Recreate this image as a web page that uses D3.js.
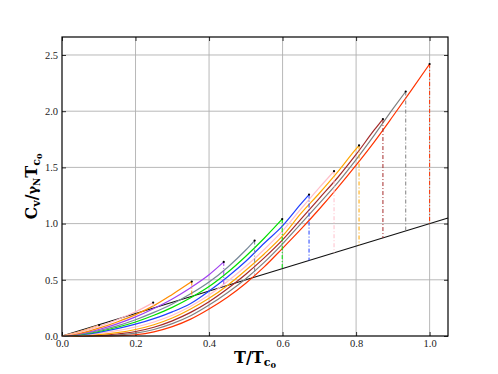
<!DOCTYPE html>
<html>
<head>
<meta charset="utf-8">
<script src="https://cdn.jsdelivr.net/npm/d3@7"></script>
<style>
  body { margin: 0; background: #fff; }
  .tick line { stroke: #000; stroke-width: 0.8; }
</style>
</head>
<body>
<div id="chart"></div>
<script>
// temperature grid (T/Tc0) where the curves were read
var tGrid = [0, 0.05, 0.1, 0.15, 0.2, 0.25, 0.3, 0.35, 0.4, 0.45, 0.5,
             0.55, 0.6, 0.65, 0.7, 0.75, 0.8, 0.85, 0.9, 0.95, 1.0];

// critical temperatures, highest first
var tcValues = [1.0, 0.935, 0.873, 0.808, 0.74, 0.672, 0.599, 0.524, 0.44, 0.353, 0.248, 0.101];

// Cv / gamma_N Tc0 on tGrid below Tc, last value is the one at Tc
var cv100 = [0, 0, 0, 0.002, 0.011, 0.037, 0.083, 0.15, 0.24, 0.345, 0.47, 0.615, 0.78, 0.95, 1.13, 1.32, 1.52, 1.73, 1.955, 2.185, 2.42];
var cv094 = [0, 0, 0.002, 0.008, 0.025, 0.058, 0.11, 0.18, 0.275, 0.385, 0.51, 0.655, 0.82, 1.0, 1.18, 1.365, 1.57, 1.79, 2.02, 2.175];
var cv087 = [0, 0.001, 0.006, 0.018, 0.04, 0.078, 0.135, 0.21, 0.305, 0.42, 0.55, 0.695, 0.855, 1.04, 1.225, 1.41, 1.615, 1.835, 1.93];
var cv081 = [0, 0.004, 0.013, 0.03, 0.058, 0.1, 0.16, 0.24, 0.335, 0.45, 0.585, 0.73, 0.89, 1.09, 1.27, 1.46, 1.665, 1.695];
var cv074 = [0, 0.008, 0.024, 0.048, 0.08, 0.125, 0.185, 0.265, 0.365, 0.485, 0.62, 0.77, 0.935, 1.13, 1.32, 1.466];
var cv067 = [0, 0.011, 0.033, 0.065, 0.105, 0.155, 0.215, 0.29, 0.40, 0.525, 0.665, 0.825, 0.98, 1.175, 1.258];
var cv060 = [0, 0.014, 0.04, 0.078, 0.125, 0.185, 0.255, 0.34, 0.44, 0.565, 0.71, 0.87, 1.04];
var cv052 = [0, 0.017, 0.048, 0.09, 0.145, 0.21, 0.285, 0.375, 0.48, 0.61, 0.765, 0.849];
var cv044 = [0, 0.02, 0.058, 0.108, 0.17, 0.245, 0.33, 0.43, 0.545, 0.659];
var cv035 = [0, 0.025, 0.07, 0.125, 0.19, 0.27, 0.37, 0.484];
var cv025 = [0, 0.035, 0.085, 0.145, 0.215, 0.297];
var cv010 = [0, 0.042, 0.098];

var cvCurves = [cv100, cv094, cv087, cv081, cv074, cv067, cv060, cv052, cv044, cv035, cv025, cv010];

// normal state line
var normalT = [0, 1.05];
var normalCv = [0, 1.05];

var curveColors = ["#ff3300", "#808080", "#a52a2a", "#ffa500", "#ffc0cb", "#2040ff",
                   "#00e000", "#778899", "#a040f0", "#ff8c00", "#ffb6c1", "#ffb07a"];

var xTicks = [0, 0.2, 0.4, 0.6, 0.8, 1.0];
var yTicks = [0, 0.5, 1.0, 1.5, 2.0, 2.5];

var margin = {top: 37, right: 50, bottom: 38, left: 62};
var width = 498 - margin.left - margin.right,
    height = 374 - margin.top - margin.bottom;

var svg = d3.select("#chart").append("svg")
    .attr("width", 498)
    .attr("height", 374)
    .append("g")
    .attr("transform", "translate(" + margin.left + "," + margin.top + ")");

var x = d3.scaleLinear().domain([0, 1.05]).range([0, width]);
var y = d3.scaleLinear().domain([0, 2.66]).range([height, 0]);

// grid
svg.append("g").selectAll("line").data(xTicks.slice(1))
    .enter().append("line")
    .attr("x1", function(d) { return x(d); })
    .attr("x2", function(d) { return x(d); })
    .attr("y1", 0).attr("y2", height)
    .attr("stroke", "#b0b0b0").attr("stroke-width", 0.9);

svg.append("g").selectAll("line").data(yTicks.slice(1))
    .enter().append("line")
    .attr("y1", function(d) { return y(d); })
    .attr("y2", function(d) { return y(d); })
    .attr("x1", 0).attr("x2", width)
    .attr("stroke", "#b0b0b0").attr("stroke-width", 0.9);

// axes, ticks pointing in
var fmt = d3.format(".1f");
function styleAxis(g) {
    g.select(".domain").remove();
    g.attr("font-family", "Liberation Serif, serif")
        .attr("font-size", 10.5);
    g.selectAll(".tick text").attr("fill", "#222");
}

svg.append("g")
    .attr("transform", "translate(0," + height + ")")
    .call(d3.axisBottom(x).tickValues(xTicks).tickSize(-4).tickPadding(4).tickFormat(fmt))
    .call(styleAxis);

svg.append("g")
    .call(d3.axisLeft(y).tickValues(yTicks).tickSize(-4).tickPadding(4).tickFormat(fmt))
    .call(styleAxis);

svg.append("g")
    .call(d3.axisTop(x).tickValues(xTicks).tickSize(-4).tickFormat(""))
    .call(styleAxis);

svg.append("g")
    .attr("transform", "translate(" + width + ",0)")
    .call(d3.axisRight(y).tickValues(yTicks).tickSize(-4).tickFormat(""))
    .call(styleAxis);

var plot = svg.append("g");

// normal state
var line = d3.line()
    .x(function(d) { return x(d[0]); })
    .y(function(d) { return y(d[1]); });

plot.append("path")
    .datum(normalT.map(function(t, i) { return [t, normalCv[i]]; }))
    .attr("d", line)
    .attr("fill", "none")
    .attr("stroke", "#111")
    .attr("stroke-width", 1.2);

// superconducting curves
var curveLine = d3.line()
    .curve(d3.curveMonotoneX)
    .x(function(d) { return x(d[0]); })
    .y(function(d) { return y(d[1]); });

cvCurves.forEach(function(vals, i) {
    var tc = tcValues[i];
    var pts = vals.map(function(v, j) {
        return [j === vals.length - 1 ? tc : tGrid[j], v];
    });
    var end = pts[pts.length - 1];

    // jump at Tc down to the normal line
    plot.append("line")
        .attr("x1", x(tc)).attr("x2", x(tc))
        .attr("y1", y(end[1])).attr("y2", y(tc))
        .attr("stroke", curveColors[i])
        .attr("stroke-width", 1)
        .attr("stroke-dasharray", "4,2,1,2");

    plot.append("path")
        .datum(pts)
        .attr("d", curveLine)
        .attr("fill", "none")
        .attr("stroke", curveColors[i])
        .attr("stroke-width", 1.2);

    plot.append("circle")
        .attr("cx", x(tc)).attr("cy", y(end[1]))
        .attr("r", 1.1)
        .attr("fill", "#000");
});

// frame
svg.append("rect")
    .attr("width", width).attr("height", height)
    .attr("fill", "none").attr("stroke", "#000").attr("stroke-width", 1.2);

// axis labels
var xl = svg.append("text")
    .attr("x", width / 2).attr("y", height + 27)
    .attr("text-anchor", "middle")
    .attr("font-family", "DejaVu Serif, serif")
    .attr("font-weight", "bold")
    .attr("font-size", 16);
xl.append("tspan").text("T/T");
xl.append("tspan").attr("font-size", 11).attr("dy", 3).text("c");
xl.append("tspan").attr("font-size", 8).attr("dy", 2).text("0");

var yl = svg.append("text")
    .attr("transform", "translate(-25," + (height / 2) + ") rotate(-90)")
    .attr("text-anchor", "middle")
    .attr("font-family", "DejaVu Serif, serif")
    .attr("font-weight", "bold")
    .attr("font-size", 16);
yl.append("tspan").text("C");
yl.append("tspan").attr("font-size", 11).attr("dy", 3).text("v");
yl.append("tspan").attr("dy", -3).text("/");
yl.append("tspan").attr("font-size", 13).text("γ");
yl.append("tspan").attr("font-size", 9).attr("dy", 3).text("N");
yl.append("tspan").attr("dy", -3).text("T");
yl.append("tspan").attr("font-size", 11).attr("dy", 3).text("c");
yl.append("tspan").attr("font-size", 8).attr("dy", 2).text("0");
</script>
</body>
</html>
